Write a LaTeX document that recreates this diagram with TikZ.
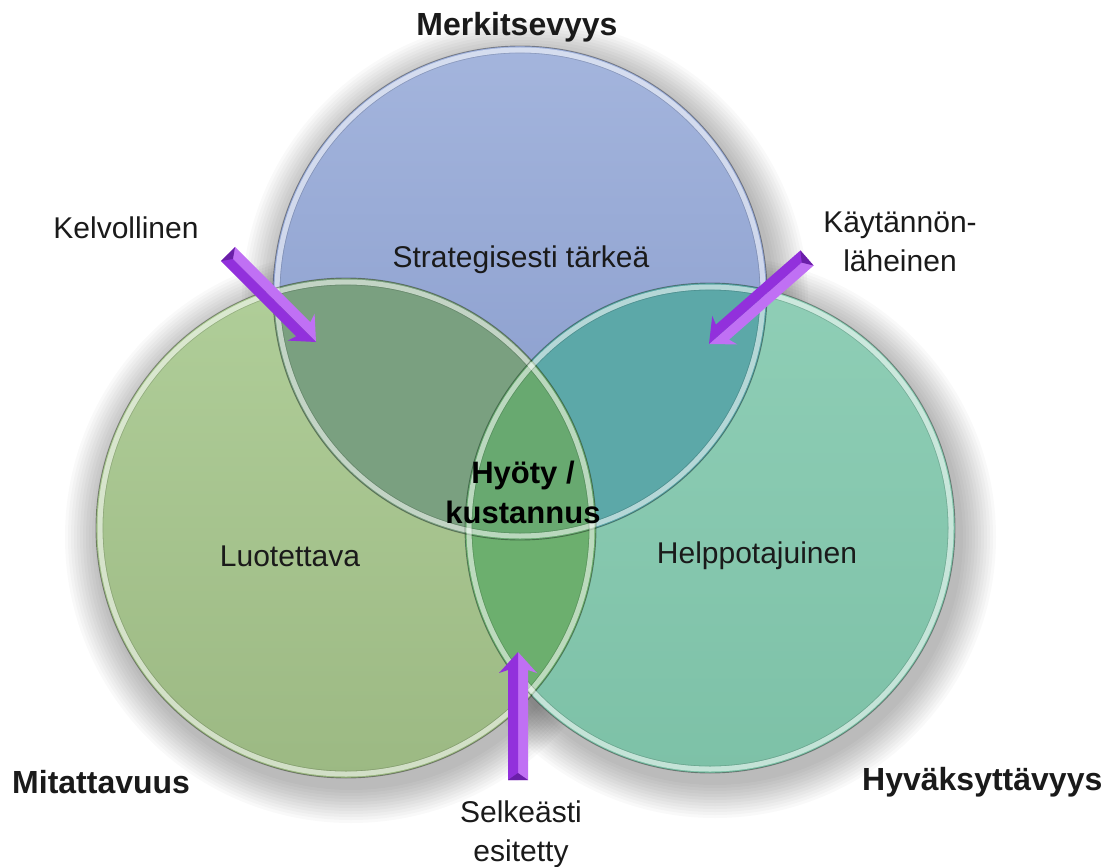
\documentclass[tikz,border=0pt]{standalone}
\usepackage{fontspec}
\setmainfont{Liberation Sans}
\usetikzlibrary{calc}

\definecolor{blueA}{HTML}{A4B5DD}
\definecolor{blueB}{HTML}{8599CA}
\definecolor{greenA}{HTML}{B0CE99}
\definecolor{greenB}{HTML}{9CB983}
\definecolor{tealA}{HTML}{8FCEB6}
\definecolor{tealB}{HTML}{7DC1A7}
\definecolor{ovBG}{HTML}{7AA080}
\definecolor{ovBT}{HTML}{5CA8A8}
\definecolor{ovGT}{HTML}{6CAF6E}
\definecolor{ovAll}{HTML}{68A970}
\definecolor{arrowLight}{HTML}{C070F4}
\definecolor{arrowDark}{HTML}{9230DC}
\definecolor{arrowEnd}{HTML}{6A1FA8}
\definecolor{ink}{HTML}{1A1A1A}

% the three circles
\def\pathB{(cB) circle[radius=247pt]}
\def\pathG{(cG) circle[radius=250pt]}
\def\pathT{(cT) circle[radius=245pt]}

% two-faced block arrow from #1 (tail) to #2 (tip); #3 = side of the light face
\newcommand{\prismarrow}[3]{%
  \coordinate (#1-hb) at ($(#2)!18pt!(#1)$);
  \coordinate (#1-bb) at ($(#2)!21pt!(#1)$);
  \coordinate (#1-tl) at ($(#1)!10pt!#3:(#2)$);
  \coordinate (#1-tr) at ($(#1)!10pt!-#3:(#2)$);
  \coordinate (#1-hl) at ($(#1-hb)!10pt!#3:(#2)$);
  \coordinate (#1-hr) at ($(#1-hb)!10pt!-#3:(#2)$);
  \coordinate (#1-wl) at ($(#1-bb)!19pt!#3:(#2)$);
  \coordinate (#1-wr) at ($(#1-bb)!19pt!-#3:(#2)$);
  \fill[arrowLight] (#1) -- (#1-tl) -- (#1-hl) -- (#1-wl) -- (#2) -- cycle;
  \fill[arrowDark] (#1) -- (#1-tr) -- (#1-hr) -- (#1-wr) -- (#2) -- cycle;
  \fill[arrowEnd] (#1-tl) -- (#1-tr) -- ($(#1)!7pt!(#2)$) -- cycle;
}

\begin{document}
\begin{tikzpicture}[x=1pt,y=-1pt,
  title/.style={font=\fontsize{32}{36}\selectfont\bfseries, text=ink, inner sep=0pt},
  note/.style={font=\fontsize{30}{39}\selectfont, text=ink, align=center, inner sep=0pt},
  inlabel/.style={font=\fontsize{30}{36}\selectfont, text=ink, inner sep=0pt},
  core/.style={font=\fontsize{31}{40}\selectfont\bfseries, text=black, align=center, inner sep=0pt},
  rimlight/.style={white, opacity=0.55, line width=5pt},
  rimdark/.style={black, opacity=0.35, line width=0.9pt},
  riminner/.style={black, opacity=0.15, line width=0.6pt}]

\useasboundingbox (0,0) rectangle (1117,867);
\fill[white] (0,0) rectangle (1117,867);

\coordinate (cB) at (520,293);
\coordinate (cG) at (346,528);
\coordinate (cT) at (710,528);

% soft shadow under the circles
\foreach \c/\r in {cB/247, cG/250, cT/245} {
  \foreach \k in {1,...,12} {
    \fill[black, opacity=0.022] ($(\c)+(5,9)$) circle[radius={(\r+3*\k)*1pt}];
  }
}

% circle bodies
\shade[top color=blueA, bottom color=blueB] \pathB;
\shade[top color=greenA, bottom color=greenB] \pathG;
\shade[top color=tealA, bottom color=tealB] \pathT;

% overlaps
\begin{scope}
  \clip \pathB;
  \fill[ovBG] \pathG;
  \fill[ovBT] \pathT;
\end{scope}
\begin{scope}
  \clip \pathG;
  \fill[ovGT] \pathT;
  \clip \pathB;
  \fill[ovAll] \pathT;
\end{scope}

% bevelled rims
\foreach \c/\r in {cB/247, cG/250, cT/245} {
  \draw[rimlight] (\c) circle[radius={(\r-4)*1pt}];
  \draw[rimdark] (\c) circle[radius={\r*1pt}];
  \draw[riminner] (\c) circle[radius={(\r-7)*1pt}];
}

% labels
\node[title] (merk) at (517,27) {Merkitsevyys};
\node[note] (kelv) at (126,228) {Kelvollinen};
\node[note] (kayt) at (900,242) {Käytännön-\\läheinen};
\node[inlabel] (strat) at (521,260) {Strategisesti tärkeä};
\node[core] (hyoty) at (523,492) {Hyöty /\\kustannus};
\node[inlabel] (luot) at (290,556) {Luotettava};
\node[inlabel] (help) at (757,556) {Helppotajuinen};
\node[title, anchor=west] (mit) at (12,782) {Mitattavuus};
\node[title, anchor=west] (hyv) at (862,782) {Hyväksyttävyys};
\node[note] (selk) at (521,834) {Selkeästi\\esitetty};

% arrows
\coordinate (kelvT) at (228,254);
\coordinate (kelvH) at (316,342);
\coordinate (kaytT) at (807,258);
\coordinate (kaytH) at (709,344);
\coordinate (selkT) at (518,780);
\coordinate (selkH) at (518,652);
\prismarrow{kelvT}{kelvH}{90}
\prismarrow{kaytT}{kaytH}{90}
\prismarrow{selkT}{selkH}{-90}

\end{tikzpicture}
\end{document}
